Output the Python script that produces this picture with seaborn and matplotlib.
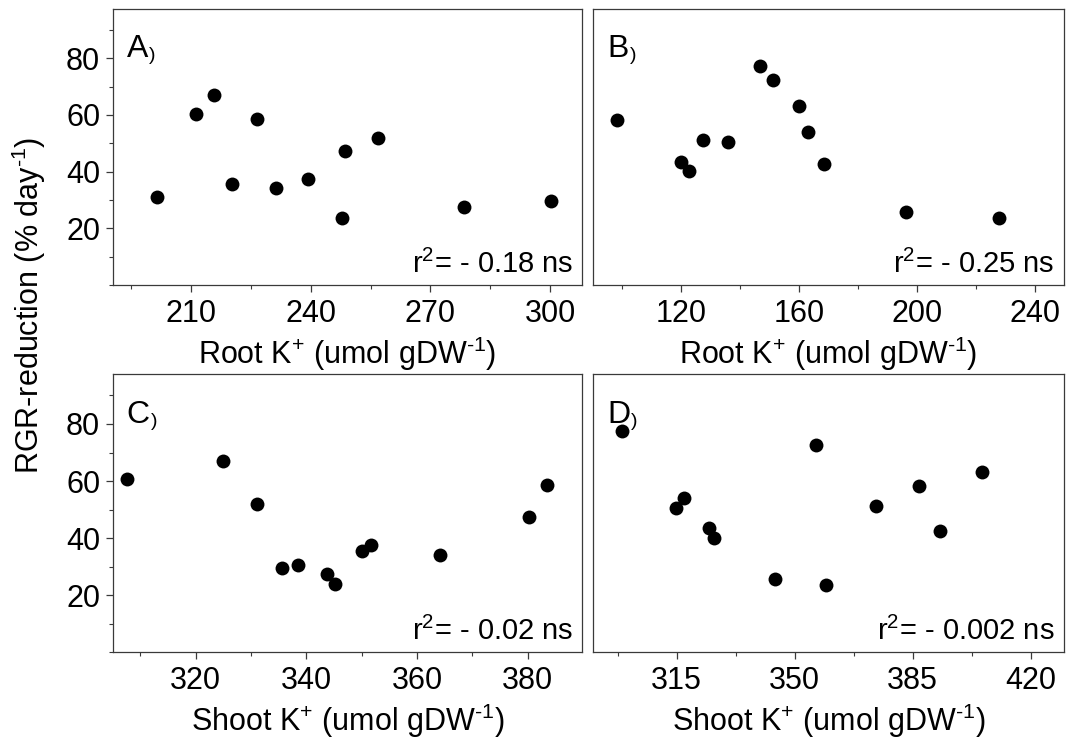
import matplotlib
matplotlib.use("Agg")
import matplotlib.pyplot as plt
import seaborn as sns
import pandas as pd
from matplotlib.ticker import MultipleLocator

# ---- data ----
root_k_a = [201.6, 211.3, 215.9, 220.2, 226.5, 231.2, 239.4, 248.7, 247.9, 256.9, 278.4, 300.2]
rgr_a = [30.9, 60.5, 66.9, 35.6, 58.6, 34.2, 37.5, 47.3, 23.8, 51.8, 27.6, 29.7]

root_k_b = [98.2, 120.0, 122.8, 127.5, 135.8, 146.7, 151.2, 159.9, 163.2, 168.6, 196.2, 227.9]
rgr_b = [58.4, 43.5, 40.1, 51.1, 50.3, 77.3, 72.5, 63.2, 54.0, 42.7, 25.9, 23.7]

shoot_k_c = [307.6, 325.0, 331.0, 335.6, 338.4, 343.7, 345.2, 350.1, 351.7, 364.2, 380.2, 383.5]
rgr_c = [60.7, 67.0, 51.8, 29.6, 30.7, 27.6, 23.9, 35.5, 37.5, 34.2, 47.5, 58.6]

shoot_k_d = [298.7, 314.8, 317.2, 324.7, 326.1, 344.3, 356.3, 359.4, 374.2, 386.9, 393.0, 405.7]
rgr_d = [77.4, 50.4, 54.0, 43.6, 40.2, 25.8, 72.5, 23.7, 51.2, 58.4, 42.6, 63.3]

panel_letters = ["A", "B", "C", "D"]
r2_texts = [r"r$^{2}$= - 0.18 ns", r"r$^{2}$= - 0.25 ns", r"r$^{2}$= - 0.02 ns", r"r$^{2}$= - 0.002 ns"]
xlabels = [r"Root K$^{+}$ (umol gDW$^{\text{-1}}$)", r"Root K$^{+}$ (umol gDW$^{\text{-1}}$)",
           r"Shoot K$^{+}$ (umol gDW$^{\text{-1}}$)", r"Shoot K$^{+}$ (umol gDW$^{\text{-1}}$)"]
ylabel = r"RGR-reduction (% day$^{\text{-1}}$)"
x_ticks = [[210, 240, 270, 300], [120, 160, 200, 240], [320, 340, 360, 380], [315, 350, 385, 420]]
x_minor = [15, 20, 10, 17.5]
x_lims = [(190.4, 308.1), (90.3, 249.8), (305.0, 389.9), (290.3, 429.9)]
y_ticks = [20, 40, 60, 80]
y_lim = (0, 97.4)

# ---- style ----
sns.set_style("ticks")
plt.rcParams["font.family"] = ["Liberation Sans", "DejaVu Sans"]
plt.rcParams["mathtext.fontset"] = "custom"
plt.rcParams["mathtext.rm"] = "Liberation Sans"
plt.rcParams["mathtext.it"] = "Liberation Sans:italic"
plt.rcParams["mathtext.bf"] = "Liberation Sans:bold"
plt.rcParams["text.color"] = "black"
plt.rcParams["axes.labelcolor"] = "black"
plt.rcParams["xtick.labelcolor"] = "black"
plt.rcParams["ytick.labelcolor"] = "black"

fig = plt.figure(figsize=(10.68, 7.40), dpi=100)
positions = [
    [0.1055, 0.6149, 0.4399, 0.3729],
    [0.5555, 0.6149, 0.4407, 0.3729],
    [0.1055, 0.1185, 0.4399, 0.3757],
    [0.5555, 0.1185, 0.4407, 0.3757],
]
datasets = [(root_k_a, rgr_a), (root_k_b, rgr_b), (shoot_k_c, rgr_c), (shoot_k_d, rgr_d)]

spine_color = "#3a3a3a"
for i, (pos, (xs, ys)) in enumerate(zip(positions, datasets)):
    ax = fig.add_axes(pos)
    df = pd.DataFrame({"x": xs, "y": ys})
    sns.scatterplot(data=df, x="x", y="y", ax=ax, color="black", s=100,
                    edgecolor="black", linewidth=0, legend=False)
    ax.set_xlim(*x_lims[i])
    ax.set_ylim(*y_lim)
    ax.set_xticks(x_ticks[i])
    ax.xaxis.set_minor_locator(MultipleLocator(x_minor[i]))
    ax.set_xticklabels([str(t) for t in x_ticks[i]])
    ax.set_xlabel(xlabels[i], fontsize=22, labelpad=4, color="black")
    ax.set_ylabel("")
    if i in (0, 2):
        ax.set_yticks(y_ticks)
        ax.yaxis.set_minor_locator(MultipleLocator(10))
        ax.tick_params(axis="y", which="major", labelsize=22, length=5, width=0.9,
                       color=spine_color, pad=4)
        ax.tick_params(axis="y", which="minor", length=3, width=0.8, color=spine_color)
    else:
        ax.set_yticks([])
        ax.tick_params(axis="y", which="both", left=False, labelleft=False)
    ax.tick_params(axis="x", which="major", labelsize=22, length=5, width=0.9,
                   color=spine_color, pad=5)
    ax.tick_params(axis="x", which="minor", length=3, width=0.8, color=spine_color)
    for sp in ax.spines.values():
        sp.set_visible(True)
        sp.set_color(spine_color)
        sp.set_linewidth(0.9)

    t = ax.text(0.03, 0.826, panel_letters[i], transform=ax.transAxes,
                fontsize=23, ha="left", va="baseline", color="black")
    ax.annotate(")", xy=(1, 0), xycoords=t, xytext=(0.5, 0), textcoords="offset points",
                fontsize=14, ha="left", va="bottom", color="black")
    ax.text(0.98, 0.045, r2_texts[i], transform=ax.transAxes, fontsize=21,
            ha="right", va="baseline", color="black")

fig.text(0.027, 0.588, ylabel, rotation=90, fontsize=22, ha="center", va="center",
         color="black")

fig.savefig("out.png", dpi=100)
